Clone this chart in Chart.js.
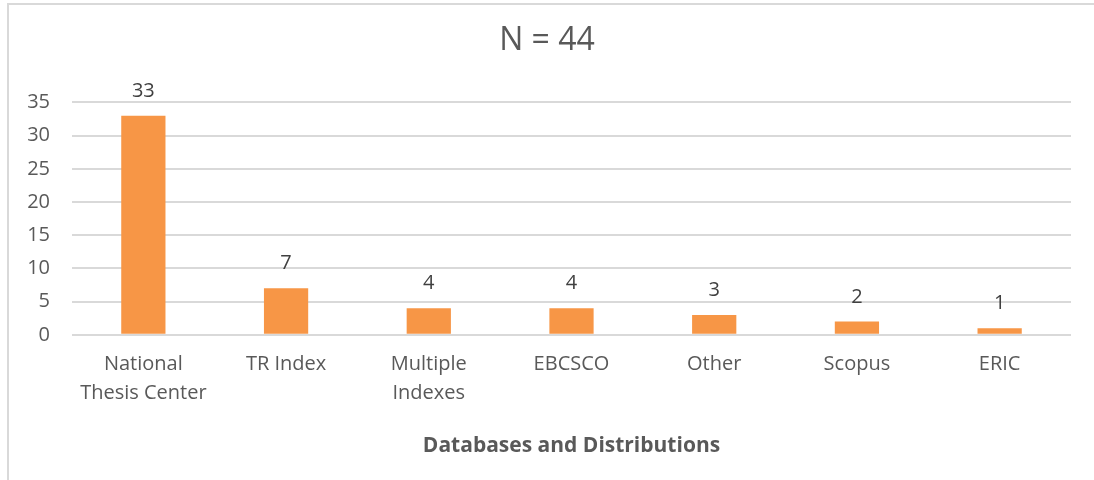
<!DOCTYPE html>
<html>
<head>
<meta charset="utf-8">
<script src="https://cdn.jsdelivr.net/npm/chart.js@4/dist/chart.umd.min.js"></script>
<style>
  html, body { margin: 0; padding: 0; background: #fff; }
  #frame { position: absolute; left: 7px; top: 3px; width: 1200px; height: 600px;
           border-left: 2px solid #d9d9d9; border-top: 2px solid #d9d9d9; }
  #wrap { position: absolute; left: 0; top: 0; width: 1094px; height: 480px; }
</style>
</head>
<body>
<div id="frame"></div>
<div id="wrap"><canvas id="barchart"></canvas></div>
<script>
// Databases and distributions (N = 44)
var categories = [["National", "Thesis Center"], "TR Index", ["Multiple", "Indexes"], "EBCSCO", "Other", "Scopus", "ERIC"];
var counts = [33, 7, 4, 4, 3, 2, 1];
var yTicks = [0, 5, 10, 15, 20, 25, 30, 35];

var FONT = "'Open Sans', 'Noto Sans', sans-serif";
var textColor = "#595959";

// values over the bars
var valueLabels = {
	id: "valueLabels",
	afterDatasetsDraw: function(chart) {
		var ctx = chart.ctx;
		var meta = chart.getDatasetMeta(0);
		ctx.save();
		ctx.font = "20px " + FONT;
		ctx.fillStyle = "#404040";
		ctx.textAlign = "center";
		ctx.textBaseline = "alphabetic";
		meta.data.forEach(function(bar, i) {
			ctx.fillText(chart.data.datasets[0].data[i], bar.x, bar.y - 19);
		});
		ctx.restore();
	}
};

var ctx = document.getElementById("barchart");

var chart = new Chart(ctx, {
	type: "bar",
	data: {
		labels: categories,
		datasets: [{
			data: counts,
			backgroundColor: "#F79646",
			barPercentage: 0.31,
			categoryPercentage: 1
		}]
	},
	options: {
		responsive: true,
		maintainAspectRatio: false,
		animation: false,
		layout: { padding: { left: 23, right: 23, top: 0, bottom: 0 } },
		plugins: {
			legend: { display: false },
			tooltip: { enabled: false },
			title: {
				display: true,
				text: "N = 44",
				color: textColor,
				font: { family: FONT, size: 32, weight: "normal" },
				padding: { top: 22, bottom: 42 }
			}
		},
		scales: {
			x: {
				grid: { display: false, drawTicks: false },
				border: { display: false },
				ticks: {
					color: textColor,
					font: { family: FONT, size: 20, lineHeight: 1.45 },
					padding: 15,
					maxRotation: 0,
					autoSkip: false
				},
				title: {
					display: true,
					text: "Databases and Distributions",
					color: textColor,
					font: { family: FONT, size: 21, weight: "bold" },
					padding: { top: 11, bottom: 21 }
				}
			},
			y: {
				min: 0,
				max: 35,
				afterFit: function(axis) { axis.width = 49; },
				afterBuildTicks: function(axis) {
					axis.ticks = yTicks.map(function(v) { return { value: v }; });
				},
				grid: { color: "#d9d9d9", lineWidth: 2, drawTicks: false },
				border: { display: false },
				ticks: {
					color: textColor,
					font: { family: FONT, size: 20 },
					padding: 22
				}
			}
		}
	},
	plugins: [valueLabels]
});
</script>
</body>
</html>
